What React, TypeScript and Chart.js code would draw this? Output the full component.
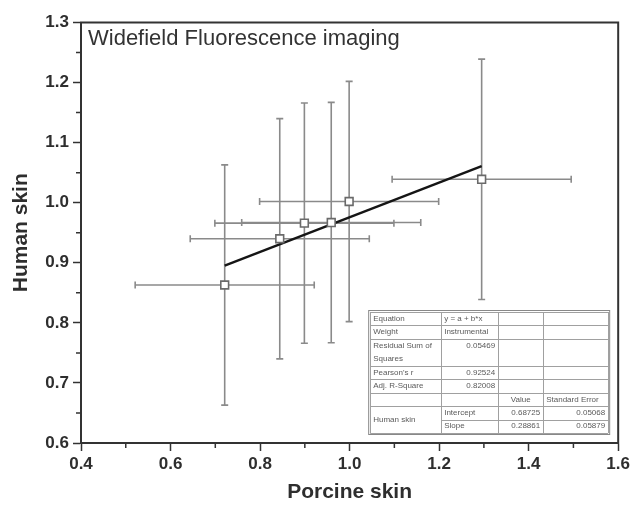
import React, { useEffect, useRef } from "react";
import { Chart, registerables } from "chart.js";

Chart.register(...registerables);

// ---- data ----
const porcineSkin = [0.721, 0.844, 0.899, 0.959, 0.999, 1.295];
const humanSkin = [0.863, 0.94, 0.966, 0.967, 1.002, 1.039];
const porcineErr = [0.2, 0.2, 0.2, 0.2, 0.2, 0.2];
const humanErr = [0.2, 0.2, 0.2, 0.2, 0.2, 0.2];

const fitIntercept = 0.68725;
const fitSlope = 0.28861;

const xMinorTicks = [0.5, 0.7, 0.9, 1.1, 1.3, 1.5];
const yMinorTicks = [0.65, 0.75, 0.85, 0.95, 1.05, 1.15, 1.25];

const chartTitle = "Widefield Fluorescence imaging";
const xTitle = "Porcine skin";
const yTitle = "Human skin";

// fit statistics table text
const tableEquation = "y = a + b*x";
const tableWeight = "Instrumental";
const tableRss = "0.05469";
const tablePearson = "0.92524";
const tableAdjR2 = "0.82008";
const tableIntercept = ["0.68725", "0.05068"];
const tableSlope = ["0.28861", "0.05879"];

const FONT = "'Liberation Sans', Arial, Helvetica, sans-serif";
const DARK = "#2e2e2e";
const BAR = "#8a8a8a";

export default function App() {
  const ref = useRef<HTMLCanvasElement | null>(null);

  useEffect(() => {
    if (!ref.current) return;

    const errDatasets: any[] = [];
    porcineSkin.forEach((x, i) => {
      const y = humanSkin[i];
      errDatasets.push({
        data: [
          { x: x - porcineErr[i], y },
          { x: x + porcineErr[i], y },
        ],
        showLine: true,
        borderColor: BAR,
        borderWidth: 1.6,
        pointStyle: "line",
        pointRotation: 90,
        pointRadius: 3.5,
        pointBorderColor: BAR,
        pointBorderWidth: 1.6,
        order: 3,
      });
      errDatasets.push({
        data: [
          { x, y: y - humanErr[i] },
          { x, y: y + humanErr[i] },
        ],
        showLine: true,
        borderColor: BAR,
        borderWidth: 1.6,
        pointStyle: "line",
        pointRotation: 0,
        pointRadius: 3.5,
        pointBorderColor: BAR,
        pointBorderWidth: 1.6,
        order: 3,
      });
    });

    const fx0 = Math.min(...porcineSkin);
    const fx1 = Math.max(...porcineSkin);
    const fitDataset = {
      data: [
        { x: fx0, y: fitIntercept + fitSlope * fx0 },
        { x: fx1, y: fitIntercept + fitSlope * fx1 },
      ],
      showLine: true,
      borderColor: "#151515",
      borderWidth: 2.4,
      pointRadius: 0,
      order: 2,
    };

    const pointDataset = {
      data: porcineSkin.map((x, i) => ({ x, y: humanSkin[i] })),
      showLine: false,
      pointStyle: "rect",
      pointRadius: 5.5,
      pointBackgroundColor: "#ffffff",
      pointBorderColor: "#6a6a6a",
      pointBorderWidth: 1.6,
      order: 1,
    };

    const decorPlugin = {
      id: "decor",
      beforeDatasetsDraw(chart: any) {
        const { ctx, chartArea } = chart;
        ctx.save();
        ctx.fillStyle = "#333";
        ctx.font = `22px ${FONT}`;
        ctx.textBaseline = "alphabetic";
        ctx.textAlign = "left";
        ctx.fillText(chartTitle, chartArea.left + 7, chartArea.top + 22.5);
        ctx.restore();
      },
      afterDraw(chart: any) {
        const { ctx, chartArea, scales } = chart;
        ctx.save();
        // frame
        ctx.strokeStyle = "#333";
        ctx.lineWidth = 2;
        ctx.strokeRect(
          chartArea.left,
          chartArea.top,
          chartArea.right - chartArea.left,
          chartArea.bottom - chartArea.top
        );
        // minor ticks
        ctx.lineWidth = 1.5;
        ctx.beginPath();
        xMinorTicks.forEach((v) => {
          const px = scales.x.getPixelForValue(v);
          ctx.moveTo(px, chartArea.bottom);
          ctx.lineTo(px, chartArea.bottom + 5);
        });
        yMinorTicks.forEach((v) => {
          const py = scales.y.getPixelForValue(v);
          ctx.moveTo(chartArea.left, py);
          ctx.lineTo(chartArea.left - 5, py);
        });
        ctx.stroke();

        // statistics table
        const W = 238;
        const H = 121;
        const tx = chartArea.right - 10 - W;
        const ty = chartArea.bottom - 10 - H;
        const u = H / 9;
        const cols = [0, 71, 128, 173, W];
        const rowLines = [0, 1, 2, 4, 5, 6, 7, 8, 9].map((r) => r * u);
        ctx.fillStyle = "#ffffff";
        ctx.fillRect(tx, ty, W, H);
        ctx.strokeStyle = "#a0a0a0";
        ctx.lineWidth = 1;
        ctx.beginPath();
        rowLines.forEach((ly, k) => {
          const startX = k === 7 ? cols[1] : 0;
          ctx.moveTo(tx + startX, Math.round(ty + ly) + 0.5);
          ctx.lineTo(tx + W, Math.round(ty + ly) + 0.5);
        });
        cols.forEach((cx) => {
          ctx.moveTo(Math.round(tx + cx) + 0.5, ty);
          ctx.lineTo(Math.round(tx + cx) + 0.5, ty + H);
        });
        ctx.stroke();
        ctx.strokeStyle = "#888";
        ctx.strokeRect(tx - 1.5, ty - 1.5, W + 3, H + 3);

        ctx.fillStyle = "#5a5a5a";
        ctx.font = `8px ${FONT}`;
        ctx.textBaseline = "middle";
        const L = (t: string, c: number, r: number) => {
          ctx.textAlign = "left";
          ctx.fillText(t, tx + cols[c] + 3, ty + r * u);
        };
        const R = (t: string, c: number, r: number) => {
          ctx.textAlign = "right";
          ctx.fillText(t, tx + cols[c + 1] - 3, ty + r * u);
        };
        L("Equation", 0, 0.5);
        L(tableEquation, 1, 0.5);
        L("Weight", 0, 1.5);
        L(tableWeight, 1, 1.5);
        L("Residual Sum of", 0, 2.5);
        L("Squares", 0, 3.5);
        R(tableRss, 1, 2.5);
        L("Pearson's r", 0, 4.5);
        R(tablePearson, 1, 4.5);
        L("Adj. R-Square", 0, 5.5);
        R(tableAdjR2, 1, 5.5);
        ctx.textAlign = "center";
        ctx.fillText("Value", tx + (cols[2] + cols[3]) / 2, ty + 6.5 * u);
        L("Standard Error", 3, 6.5);
        L("Human skin", 0, 8);
        L("Intercept", 1, 7.5);
        R(tableIntercept[0], 2, 7.5);
        R(tableIntercept[1], 3, 7.5);
        L("Slope", 1, 8.5);
        R(tableSlope[0], 2, 8.5);
        R(tableSlope[1], 3, 8.5);
        ctx.restore();
      },
    };

    const chart = new Chart(ref.current, {
      type: "scatter",
      data: { datasets: [pointDataset, fitDataset, ...errDatasets] as any },
      options: {
        responsive: false,
        animation: false,
        events: [],
        layout: { padding: { top: 22.5, right: 13, left: 0, bottom: 0 } },
        plugins: {
          legend: { display: false },
          tooltip: { enabled: false },
          title: { display: false },
        },
        scales: {
          x: {
            type: "linear",
            min: 0.4,
            max: 1.6,
            afterFit: (s: any) => {
              s.height = 68;
            },
            ticks: {
              stepSize: 0.2,
              autoSkip: false,
              maxRotation: 0,
              padding: 3,
              color: DARK,
              font: { family: FONT, size: 17, weight: "bold" },
              callback: (v: any) => Number(v).toFixed(1),
            },
            grid: {
              drawOnChartArea: false,
              drawTicks: true,
              tickLength: 8,
              tickWidth: 1.5,
              tickColor: "#333",
            },
            border: { display: true, color: "#333", width: 2 },
            title: {
              display: true,
              text: xTitle,
              color: DARK,
              font: { family: FONT, size: 21, weight: "bold" },
              padding: { top: 0, bottom: 6 },
            },
          },
          y: {
            type: "linear",
            min: 0.6,
            max: 1.3,
            afterFit: (s: any) => {
              s.width = 81;
            },
            ticks: {
              stepSize: 0.1,
              autoSkip: false,
              padding: 4,
              color: DARK,
              font: { family: FONT, size: 17, weight: "bold" },
              callback: (v: any) => Number(v).toFixed(1),
            },
            grid: {
              drawOnChartArea: false,
              drawTicks: true,
              tickLength: 8,
              tickWidth: 1.5,
              tickColor: "#333",
            },
            border: { display: true, color: "#333", width: 2 },
            title: {
              display: true,
              text: yTitle,
              color: DARK,
              font: { family: FONT, size: 21, weight: "bold" },
              padding: { top: 9, bottom: 0 },
            },
          },
        },
      },
      plugins: [decorPlugin],
    });

    return () => chart.destroy();
  }, []);

  return (
    <div style={{ position: "fixed", left: 0, top: 0, width: 633, height: 511, background: "#fff" }}>
      <canvas ref={ref} width={633} height={511} style={{ display: "block" }} />
    </div>
  );
}
